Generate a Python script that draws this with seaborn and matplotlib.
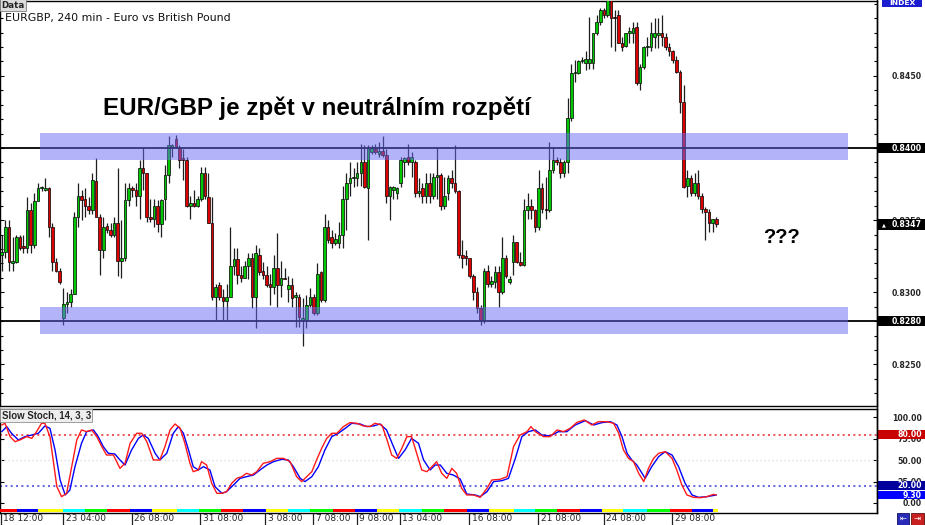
import numpy as np
import pandas as pd
import matplotlib
matplotlib.use('Agg')
import matplotlib.pyplot as plt
import matplotlib.transforms as mtransforms
from matplotlib.patches import Rectangle
import seaborn as sns

# ---------------- data (EURGBP, 240 min) ----------------
open_ = [0.8326,0.8328,0.8345,0.8320,0.8321,0.8338,0.8332,0.8331,0.8357,0.8333,
         0.8363,0.8372,0.8371,0.8372,0.8345,0.8321,0.8315,0.8282,0.8292,0.8293,
         0.8299,0.8352,0.8367,0.8365,0.8360,0.8357,0.8377,0.8352,0.8329,0.8346,
         0.8343,0.8340,0.8348,0.8322,0.8324,0.8364,0.8372,0.8371,0.8367,0.8386,
         0.8383,0.8352,0.8351,0.8360,0.8347,0.8365,0.8381,0.8401,0.8406,0.8400,
         0.8393,0.8392,0.8360,0.8362,0.8360,0.8365,0.8383,0.8366,0.8348,0.8297,
         0.8305,0.8297,0.8294,0.8297,0.8318,0.8323,0.8312,0.8310,0.8318,0.8324,
         0.8297,0.8326,0.8315,0.8312,0.8306,0.8304,0.8317,0.8305,0.8310,0.8302,
         0.8305,0.8297,0.8297,0.8281,0.8281,0.8291,0.8297,0.8286,0.8314,0.8295,
         0.8345,0.8338,0.8334,0.8334,0.8340,0.8365,0.8376,0.8379,0.8379,0.8383,
         0.8390,0.8372,0.8397,0.8399,0.8396,0.8398,0.8395,0.8367,0.8371,0.8369,
         0.8376,0.8390,0.8394,0.8390,0.8390,0.8369,0.8372,0.8367,0.8376,0.8367,
         0.8380,0.8381,0.8360,0.8369,0.8379,0.8376,0.8370,0.8326,0.8325,0.8324,
         0.8311,0.8300,0.8289,0.8281,0.8315,0.8306,0.8307,0.8314,0.8300,0.8324,
         0.8307,0.8321,0.8335,0.8321,0.8319,0.8357,0.8360,0.8357,0.8345,0.8372,
         0.8358,0.8357,0.8385,0.8392,0.8390,0.8383,0.8390,0.8421,0.8452,0.8452,
         0.8460,0.8459,0.8459,0.8459,0.8480,0.8487,0.8496,0.8492,0.8503,0.8491,
         0.8492,0.8473,0.8471,0.8480,0.8480,0.8484,0.8445,0.8456,0.8470,0.8470,
         0.8477,0.8478,0.8480,0.8477,0.8470,0.8467,0.8461,0.8453,0.8432,0.8374,
         0.8379,0.8369,0.8376,0.8367,0.8358,0.8356,0.8348,0.8351]
high = [0.8340,0.8350,0.8350,0.8338,0.8340,0.8340,0.8340,0.8366,0.8362,0.8369,
        0.8376,0.8374,0.8379,0.8373,0.8348,0.8324,0.8317,0.8303,0.8300,0.8302,
        0.8356,0.8376,0.8371,0.8372,0.8366,0.8383,0.8393,0.8354,0.8352,0.8348,
        0.8348,0.8352,0.8386,0.8350,0.8376,0.8376,0.8374,0.8376,0.8392,0.8401,
        0.8383,0.8365,0.8365,0.8364,0.8365,0.8388,0.8408,0.8403,0.8409,0.8402,
        0.8399,0.8394,0.8367,0.8371,0.8367,0.8387,0.8387,0.8383,0.8366,0.8306,
        0.8307,0.8302,0.8306,0.8345,0.8331,0.8331,0.8318,0.8322,0.8327,0.8327,
        0.8333,0.8331,0.8321,0.8318,0.8313,0.8326,0.8341,0.8322,0.8317,0.8311,
        0.8310,0.8300,0.8299,0.8296,0.8298,0.8303,0.8299,0.8320,0.8315,0.8354,
        0.8350,0.8343,0.8341,0.8349,0.8374,0.8383,0.8390,0.8386,0.8390,0.8403,
        0.8402,0.8402,0.8402,0.8403,0.8404,0.8408,0.8399,0.8374,0.8374,0.8373,
        0.8394,0.8394,0.8403,0.8397,0.8392,0.8379,0.8376,0.8383,0.8383,0.8383,
        0.8401,0.8383,0.8380,0.8381,0.8385,0.8402,0.8371,0.8336,0.8329,0.8324,
        0.8313,0.8304,0.8291,0.8317,0.8319,0.8311,0.8318,0.8318,0.8338,0.8326,
        0.8311,0.8340,0.8335,0.8328,0.8365,0.8369,0.8365,0.8358,0.8385,0.8376,
        0.8380,0.8404,0.8401,0.8394,0.8393,0.8392,0.8435,0.8458,0.8461,0.8461,
        0.8463,0.8467,0.8491,0.8480,0.8492,0.8497,0.8497,0.8504,0.8504,0.8496,
        0.8496,0.8477,0.8480,0.8484,0.8487,0.8487,0.8458,0.8471,0.8477,0.8487,
        0.8490,0.8490,0.8492,0.8480,0.8473,0.8468,0.8464,0.8454,0.8444,0.8385,
        0.8381,0.8383,0.8385,0.8369,0.8359,0.8358,0.8351,0.8352]
low = [0.8315,0.8324,0.8315,0.8315,0.8320,0.8329,0.8327,0.8327,0.8327,0.8331,
       0.8363,0.8370,0.8370,0.8338,0.8315,0.8314,0.8306,0.8277,0.8286,0.8290,
       0.8299,0.8345,0.8350,0.8352,0.8354,0.8354,0.8352,0.8312,0.8324,0.8341,
       0.8338,0.8338,0.8311,0.8310,0.8322,0.8360,0.8366,0.8360,0.8351,0.8371,
       0.8349,0.8349,0.8345,0.8342,0.8338,0.8350,0.8376,0.8394,0.8400,0.8386,
       0.8378,0.8359,0.8351,0.8359,0.8359,0.8363,0.8365,0.8348,0.8295,0.8281,
       0.8295,0.8281,0.8281,0.8297,0.8312,0.8306,0.8307,0.8310,0.8309,0.8289,
       0.8275,0.8312,0.8309,0.8304,0.8291,0.8299,0.8290,0.8297,0.8309,0.8293,
       0.8290,0.8276,0.8276,0.8263,0.8275,0.8290,0.8284,0.8284,0.8293,0.8293,
       0.8334,0.8331,0.8333,0.8331,0.8331,0.8343,0.8367,0.8373,0.8374,0.8374,
       0.8372,0.8336,0.8396,0.8396,0.8394,0.8394,0.8362,0.8350,0.8365,0.8365,
       0.8373,0.8380,0.8388,0.8380,0.8366,0.8366,0.8362,0.8362,0.8362,0.8365,
       0.8365,0.8357,0.8358,0.8364,0.8372,0.8369,0.8324,0.8317,0.8319,0.8310,
       0.8295,0.8286,0.8277,0.8279,0.8304,0.8304,0.8303,0.8290,0.8299,0.8310,
       0.8306,0.8312,0.8320,0.8318,0.8318,0.8351,0.8351,0.8342,0.8343,0.8355,
       0.8351,0.8356,0.8383,0.8388,0.8379,0.8380,0.8383,0.8419,0.8446,0.8451,
       0.8459,0.8454,0.8455,0.8455,0.8478,0.8485,0.8490,0.8491,0.8470,0.8467,
       0.8473,0.8467,0.8470,0.8473,0.8473,0.8444,0.8440,0.8455,0.8464,0.8467,
       0.8469,0.8469,0.8471,0.8468,0.8464,0.8459,0.8452,0.8424,0.8372,0.8366,
       0.8367,0.8367,0.8365,0.8355,0.8336,0.8342,0.8342,0.8345]
close = [0.8328,0.8345,0.8321,0.8322,0.8338,0.8331,0.8331,0.8357,0.8333,0.8363,
         0.8372,0.8373,0.8372,0.8345,0.8321,0.8315,0.8307,0.8292,0.8293,0.8299,
         0.8352,0.8367,0.8364,0.8360,0.8357,0.8378,0.8352,0.8329,0.8345,0.8343,
         0.8340,0.8348,0.8322,0.8324,0.8364,0.8372,0.8371,0.8367,0.8386,0.8383,
         0.8352,0.8351,0.8360,0.8347,0.8364,0.8381,0.8402,0.8402,0.8401,0.8392,
         0.8392,0.8360,0.8362,0.8360,0.8365,0.8383,0.8367,0.8348,0.8297,0.8304,
         0.8297,0.8294,0.8297,0.8318,0.8323,0.8312,0.8310,0.8318,0.8324,0.8297,
         0.8327,0.8314,0.8312,0.8305,0.8304,0.8317,0.8305,0.8310,0.8309,0.8305,
         0.8296,0.8298,0.8283,0.8282,0.8291,0.8297,0.8286,0.8313,0.8295,0.8345,
         0.8336,0.8334,0.8337,0.8340,0.8365,0.8376,0.8379,0.8380,0.8383,0.8390,
         0.8373,0.8400,0.8400,0.8397,0.8398,0.8395,0.8367,0.8373,0.8373,0.8372,
         0.8392,0.8393,0.8390,0.8394,0.8369,0.8370,0.8367,0.8376,0.8367,0.8380,
         0.8381,0.8360,0.8367,0.8379,0.8376,0.8370,0.8326,0.8324,0.8324,0.8311,
         0.8300,0.8289,0.8281,0.8315,0.8306,0.8308,0.8314,0.8300,0.8324,0.8311,
         0.8309,0.8335,0.8321,0.8319,0.8357,0.8360,0.8357,0.8345,0.8372,0.8358,
         0.8357,0.8385,0.8392,0.8390,0.8383,0.8390,0.8421,0.8452,0.8453,0.8460,
         0.8461,0.8462,0.8462,0.8480,0.8487,0.8496,0.8492,0.8503,0.8490,0.8490,
         0.8473,0.8470,0.8480,0.8481,0.8483,0.8445,0.8456,0.8470,0.8471,0.8480,
         0.8480,0.8480,0.8477,0.8470,0.8467,0.8461,0.8453,0.8432,0.8373,0.8379,
         0.8369,0.8376,0.8367,0.8358,0.8356,0.8348,0.8351,0.8347]

# horizontal levels and highlighted zones
levels = [0.8400, 0.8280]
zones = [(0.83917, 0.84102), (0.82711, 0.82896)]
zone_span = (10.6, 233.3)          # candle-index span of the zones
last_price = 0.8347

# Slow Stochastic (14,3,3): %K (red) and %D (blue)
k_x = [0.0,0.9,2.3,3.7,5.0,6.9,8.3,9.6,11.0,11.9,13.3,14.2,15.2,16.5,17.9,19.3,20.7,22.0,23.4,24.8,
       26.2,27.6,28.9,30.8,32.6,34.0,35.4,37.2,38.6,40.0,41.8,43.6,45.0,46.4,47.8,49.2,50.5,51.9,52.8,54.2,
       55.1,56.5,57.9,59.3,60.7,62.0,63.4,64.8,66.2,67.5,68.9,70.3,72.1,74.0,75.8,77.7,79.5,81.3,82.7,84.1,
       85.5,86.8,88.2,89.6,91.0,92.4,94.2,96.0,97.9,99.7,101.5,102.9,104.8,106.1,107.5,108.9,110.3,111.7,113.0,114.4,
       115.8,117.2,118.6,119.9,121.3,122.7,124.1,125.4,126.8,128.2,
       130.1,131.9,133.8,135.1,137.4,139.3,141.1,142.9,144.8,145.9,147.1,149.4,151.2,153.1,154.9,156.7,158.6,160.6,162.7,164.5,
       166.8,168.7,170.1,171.4,172.8,174.2,175.6,177.0,178.3,179.7,181.1,182.9,184.8,186.1,187.5,188.9,190.7,192.6,194.4,196.2,197.0]
k_v = [91.2,93.2,77.6,71.7,73.7,77.6,75.6,83.4,93.2,93.2,77.6,50.3,19.1,7.4,11.3,42.5,73.7,85.4,83.4,85.4,
       77.6,65.9,56.1,56.1,40.5,46.4,69.8,81.5,81.5,71.7,50.3,50.3,65.9,85.4,92.4,87.3,69.8,46.4,36.6,38.6,
       48.3,44.4,23.0,11.3,11.3,13.3,23.0,28.8,30.8,34.7,32.7,36.6,46.4,48.3,52.2,52.2,48.3,30.8,25.0,30.8,
       36.6,50.3,63.9,75.6,81.5,81.5,89.3,94.0,93.2,90.1,89.3,93.2,91.2,75.6,56.1,52.2,63.9,77.6,77.6,58.1,
       38.6,36.6,42.5,48.3,34.7,28.8,40.5,34.7,17.2,9.4,
       9.4,6.6,17.2,26.9,27.7,30.8,65.9,79.5,83.4,89.3,83.4,77.6,77.6,85.4,83.4,87.3,94.3,97.1,91.2,95.1,
       95.1,93.2,81.5,62.0,52.2,48.3,34.7,25.0,40.5,52.2,58.1,60.0,52.2,38.6,21.1,9.4,6.6,6.2,7.4,10.1,9.3]
d_x = [0.0,1.4,2.7,4.6,6.4,8.3,10.1,11.9,13.3,14.7,16.1,17.5,18.8,20.2,22.0,23.4,25.3,26.6,28.0,29.4,
       31.2,32.6,34.0,35.8,37.7,39.0,40.4,42.3,43.6,45.5,47.3,48.7,50.1,51.5,52.8,54.2,55.6,57.4,58.8,60.7,
       62.0,63.9,65.7,67.5,69.4,71.2,73.1,74.9,77.2,79.0,80.4,82.3,83.6,85.5,87.3,89.1,91.0,92.8,94.7,96.5,
       98.8,100.6,102.5,104.3,106.1,108.0,109.4,111.2,113.0,114.9,116.3,118.1,119.5,120.9,122.7,124.5,126.4,
       128.2,130.5,131.9,133.8,135.6,137.9,139.7,141.6,143.4,145.2,147.1,148.9,151.2,153.5,155.8,158.1,160.9,163.2,165.5,167.8,
       169.6,171.0,172.4,173.7,175.1,177.4,179.2,181.1,182.9,184.8,186.6,188.4,190.3,192.1,194.4,197.0]
d_v = [83.4,89.3,81.5,73.7,77.6,79.5,81.5,90.1,87.3,62.0,26.9,9.4,15.2,42.5,69.8,83.4,85.4,77.6,65.9,58.1,
       57.3,50.3,44.4,62.0,75.6,79.5,75.6,58.1,50.3,58.1,81.5,89.3,81.5,62.0,42.5,38.6,42.5,38.6,19.1,11.3,
       13.3,21.1,28.8,30.8,32.7,38.6,44.4,48.3,51.1,50.3,42.5,28.8,25.0,30.8,42.5,62.0,77.6,81.5,87.3,93.2,
       92.4,89.3,90.1,92.4,85.4,65.9,52.2,62.0,75.6,69.8,50.3,38.6,44.4,44.4,34.7,32.7,28.0,
       10.5,9.4,7.4,13.3,25.0,26.1,28.8,52.2,77.6,83.4,85.4,79.5,78.4,83.4,83.4,91.2,96.3,91.2,94.0,95.1,
       91.2,77.6,58.1,50.3,44.4,28.8,42.5,54.2,60.0,56.1,42.5,23.0,9.4,6.6,7.4,9.4]
stoch_levels = [80, 50, 20]
stoch_last = 9.30

# time axis labels (candle index positions)
tick_pos = [-0.2, 17.0, 35.8, 54.7, 72.6, 85.9, 97.9, 109.8, 128.9, 147.9, 166.0, 184.9]
tick_lab = ["18 12:00", "23 04:00", "26 08:00", "31 08:00", "3 08:00", "7 08:00",
            "9 08:00", "13 04:00", "16 08:00", "21 08:00", "24 08:00", "29 08:00"]
# day colour strip boundaries (candle index)
day_edges = [-0.5, 4.1, 10.1, 17.0, 23.0, 28.9, 35.4, 41.4, 48.2, 54.3, 60.5, 66.6, 72.8,
             78.9, 85.0, 91.2, 97.3, 103.5, 109.6, 115.8, 121.9, 128.2, 134.2, 141.1, 147.0,
             153.0, 159.4, 165.4, 171.4, 177.8, 184.3, 190.2, 196.2, 197.5]
day_colors = ['#ff0000', '#0000ff', '#ffff00', '#00ffff', '#00ff00']

# ---------------- figure ----------------
sns.set_style('white')
plt.rcParams['font.family'] = ['DejaVu Sans']

W, H = 925, 525
fig = plt.figure(figsize=(W / 100, H / 100), dpi=100)
fig.patch.set_facecolor('white')

def fx(px):
    return px / W

def fy(py):
    return 1 - py / H

RIGHT = 877
ax = fig.add_axes([0, fy(406), fx(RIGHT), (406 - 1) / H])
ax2 = fig.add_axes([0, fy(513), fx(RIGHT), (513 - 409) / H])

n = len(close)
idx = np.arange(n)
o = np.array(open_); c = np.array(close); h = np.array(high); l = np.array(low)
up = c >= o
body_low = np.minimum(o, c)
body_h = np.maximum(np.abs(c - o), 0.00004)
cols = np.where(up, '#00c800', '#dc0000')

df = pd.DataFrame({'i': idx, 'o': o, 'h': h, 'l': l, 'c': c})
ax.vlines(df['i'], df['l'], df['h'], color='#1e1e1e', lw=0.9, zorder=2)
ax.bar(df['i'], body_h, bottom=body_low, width=0.72, color=cols,
       edgecolor='black', linewidth=0.5, zorder=3)

for lv in levels:
    ax.axhline(lv, color='black', lw=1.3, zorder=4)
for lo_, hi_ in zones:
    ax.add_patch(Rectangle((zone_span[0], lo_), zone_span[1] - zone_span[0], hi_ - lo_,
                           facecolor='#6969f5', alpha=0.5, edgecolor='none', zorder=5))

XL = (-0.47, 241.3)
ax.set_xlim(*XL)
ax.set_ylim(0.82212, 0.85019)
ax.set_xticks([])
ax.set_yticks([0.8250, 0.8300, 0.8350, 0.8400, 0.8450])
ax.set_yticklabels(['0.8250', '0.8300', '0.8350', '0.8400', '0.8450'],
                   fontsize=5.6, fontweight='bold', ha='right')
ax.set_yticks(np.arange(0.8230, 0.8501, 0.0010), minor=True)
ax.tick_params(axis='y', which='both', left=True, right=True, labelleft=False,
               labelright=True, direction='in', color='black', width=0.8)
ax.tick_params(axis='y', which='major', length=3.2, pad=32.2)
ax.tick_params(axis='y', which='minor', length=2.0)
for sp in ax.spines.values():
    sp.set_color('black'); sp.set_linewidth(1.0); sp.set_visible(True)

# boxed price labels on the right scale
trans = mtransforms.blended_transform_factory(ax.transAxes, ax.transData)
bw = (W - RIGHT) / RIGHT
xr = 922 / RIGHT
pix = (0.85019 - 0.82212) / 405
for val, txt in [(0.8400, '0.8400'), (0.8280, '0.8280'), (last_price, '0.8347')]:
    ax.add_patch(Rectangle((1.0, val - 5.2 * pix), bw, 10.4 * pix, transform=trans,
                           facecolor='black', edgecolor='none', clip_on=False, zorder=6))
    ax.text(xr, val, txt, transform=trans, ha='right', va='center', color='white',
            fontsize=5.6, fontweight='bold', zorder=7, clip_on=False)
ax.text(1 + 4.5 / RIGHT, last_price, '\u25b2', transform=trans, ha='left', va='center',
        color='white', fontsize=3.6, zorder=7, clip_on=False)

# ---------------- stochastic panel ----------------
kdf = pd.DataFrame({'x': k_x, 'v': k_v})
ddf = pd.DataFrame({'x': d_x, 'v': d_v})
sns.lineplot(data=ddf, x='x', y='v', ax=ax2, color='#0000ff', lw=1.0, estimator=None, sort=False, zorder=3)
sns.lineplot(data=kdf, x='x', y='v', ax=ax2, color='#ff1a1a', lw=1.0, estimator=None, sort=False, zorder=4)
ax2.axhline(stoch_levels[0], color='#e83a3a', lw=1.2, ls=(0, (1.2, 2.0)), zorder=2)
ax2.axhline(stoch_levels[1], color='#dcdcdc', lw=0.9, ls=(0, (1.2, 2.0)), zorder=2)
ax2.axhline(stoch_levels[2], color='#4a4ae8', lw=1.2, ls=(0, (1.2, 2.0)), zorder=2)

segs = [(day_edges[i], day_edges[i + 1] - day_edges[i]) for i in range(len(day_edges) - 1)]
segcols = [day_colors[i % len(day_colors)] for i in range(len(segs))]
ax2.broken_barh(segs, (-11.0, 3.6), facecolors=segcols, edgecolors='none', zorder=6)

ax2.set_xlim(*XL)
ax2.set_ylim(-11.7, 109.9)
ax2.set_xlabel(''); ax2.set_ylabel('')
ax2.set_yticks([0, 25, 50, 75, 100])
ax2.set_yticklabels(['0.00', '25.00', '50.00', '75.00', '100.00'],
                    fontsize=5.6, fontweight='bold', ha='right')
ax2.tick_params(axis='y', which='major', left=True, right=True, labelleft=False,
                labelright=True, direction='in', length=3.0, width=0.8, pad=32.2, color='black')
ax2.set_xticks(tick_pos)
ax2.set_xticklabels(tick_lab, fontsize=6.5, ha='left')
ax2.tick_params(axis='x', which='major', bottom=True, direction='out', length=8.8,
                width=0.9, color='#222222', pad=-7.8)
off = mtransforms.ScaledTranslation(2.5 / 100, 0, fig.dpi_scale_trans)
for lab in ax2.get_xticklabels():
    lab.set_transform(lab.get_transform() + off)
for sp in ax2.spines.values():
    sp.set_color('black'); sp.set_linewidth(1.0); sp.set_visible(True)

trans2 = mtransforms.blended_transform_factory(ax2.transAxes, ax2.transData)
pix2 = 121.6 / 104
for val, txt, fc in [(80, '80.00', '#c80000'), (20, '20.00', '#00009c'), (stoch_last, '9.30', '#0000ff')]:
    ax2.add_patch(Rectangle((1.0, val - 4.4 * pix2), bw, 8.8 * pix2, transform=trans2,
                            facecolor=fc, edgecolor='none', clip_on=False, zorder=6))
    ax2.text(xr, val, txt, transform=trans2, ha='right', va='center', color='white',
             fontsize=5.6, fontweight='bold', zorder=7, clip_on=False)

# ---------------- decorations ----------------
fig.add_artist(plt.Line2D([fx(RIGHT), fx(RIGHT)], [fy(0), fy(513)], color='black', lw=1.0,
                          transform=fig.transFigure))
fig.text(fx(1.5), fy(5), 'Data', fontsize=6.3, fontweight='bold', va='center', ha='left',
         bbox=dict(boxstyle='square,pad=0.12', fc='#dcdcdc', ec='#808080', lw=0.6))
fig.text(fx(5), fy(21.5), 'EURGBP, 240 min - Euro vs British Pound', fontsize=7.9,
         va='baseline', ha='left', color='#111111')
fig.text(fx(1.5), fy(415.5), 'Slow Stoch, 14, 3, 3', fontsize=6.9, fontweight='bold',
         family=['Liberation Sans', 'DejaVu Sans'], va='center', ha='left',
         bbox=dict(boxstyle='square,pad=0.15', fc='#eeeeee', ec='#909090', lw=0.6))
fig.text(fx(103), fy(115), 'EUR/GBP je zpět v neutrálním rozpětí', fontsize=17.4,
         fontweight='bold', family=['Liberation Sans', 'DejaVu Sans'], va='baseline', ha='left',
         color='black')
fig.text(fx(763), fy(243), '???', fontsize=14.5, fontweight='bold',
         family=['Liberation Sans', 'DejaVu Sans'], va='baseline', ha='left', color='black')

fig.add_artist(Rectangle((fx(882), fy(7)), fx(40), 7 / H, transform=fig.transFigure,
                         facecolor='#1c1cd0', edgecolor='none'))
fig.text(fx(902), fy(3.2), 'INDEX', fontsize=5.4, fontweight='bold', color='white',
         ha='center', va='center')

fig.add_artist(Rectangle((fx(897), fy(524.5)), fx(12), 11.5 / H, transform=fig.transFigure,
                         facecolor='#2a2ab8', edgecolor='#101060', lw=0.6))
fig.add_artist(Rectangle((fx(911), fy(524.5)), fx(12.5), 11.5 / H, transform=fig.transFigure,
                         facecolor='#c82020', edgecolor='#601010', lw=0.6))
fig.text(fx(903), fy(518.5), '\u21e4', fontsize=6, color='white', ha='center', va='center')
fig.text(fx(917.2), fy(518.5), '\u21e5', fontsize=6, color='white', ha='center', va='center')

fig.savefig('out.png', dpi=100, facecolor='white')
